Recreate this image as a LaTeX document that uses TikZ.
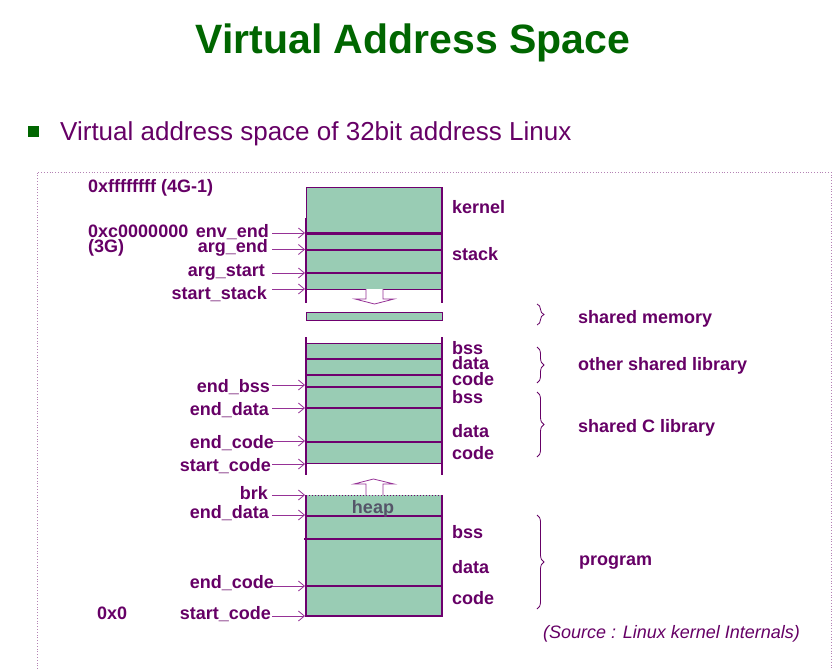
\documentclass[tikz,border=0pt]{standalone}
\usepackage{fontspec}
\setmainfont{Liberation Sans}
\usetikzlibrary{arrows.meta,decorations.pathreplacing}
\definecolor{ttl}{RGB}{0,102,0}
\definecolor{pur}{RGB}{102,0,102}
\definecolor{lnp}{RGB}{110,0,110}
\definecolor{arp}{RGB}{150,50,150}
\definecolor{segc}{RGB}{153,204,180}
\definecolor{frm}{RGB}{180,130,180}
\definecolor{heapc}{RGB}{85,85,105}
\begin{document}
\begin{tikzpicture}[x=1pt,y=-1pt,
  lbl/.style={font=\fontsize{18}{18}\selectfont\bfseries, text=pur, inner sep=0pt},
  lblL/.style={lbl, anchor=base east},
  lblR/.style={lbl, anchor=base west},
  segbox/.style={fill=segc, draw=lnp, line width=1pt},
  divline/.style={draw=lnp, line width=1.3pt},
  ptr/.style={draw=arp, line width=0.8pt, -{Straight Barb[length=6pt,width=10pt]}},
  brc/.style={draw=pur, line width=0.8pt, decorate, decoration={brace, amplitude=7pt}},
  hollow/.style={draw=arp, fill=white, line width=0.8pt},
  side/.style={draw=lnp, line width=1.2pt},
  thickside/.style={draw=lnp, line width=2pt}
]
\useasboundingbox (0,0) rectangle (835,669);
\fill[white] (0,0) rectangle (835,669);

% title and bullet
\node[font=\fontsize{41}{41}\selectfont\bfseries, text=ttl, anchor=base, inner sep=0pt] (title) at (413,53) {Virtual Address Space};
\node[fill=ttl, minimum size=11pt, inner sep=0pt] (bul) at (33,131) {};
\node[font=\fontsize{26}{26}\selectfont, text=pur, anchor=base west, inner sep=0pt] (sub) at (60,140) {Virtual address space of 32bit address Linux};

% dotted frame
\draw[frm, dotted, line width=0.8pt] (37,669) -- (37,172) -- (831,172) -- (831,669);

% block 1: kernel + stack
\draw[segbox] (306,187) rectangle (442,289);
\draw[lnp, line width=3pt] (306,233.5) -- (442,233.5);
\draw[divline] (306,250) -- (442,250);
\draw[divline] (306,273) -- (442,273);
\draw[thickside] (306,218) -- (306,303);
\draw[side] (442,187) -- (442,303);
\draw[hollow] (366,289) -- (366,299) -- (355,299) -- (374.5,304) -- (394,299) -- (383,299) -- (383,289);

% shared memory
\draw[segbox] (306,312) rectangle (442,320);

% block 2: shared libraries
\draw[segbox] (306,343) rectangle (442,463);
\foreach \yy in {359,375,387,408,442} \draw[divline] (306,\yy) -- (442,\yy);
\draw[thickside] (306,337) -- (306,420);
\draw[side] (306,420) -- (306,475);
\draw[side] (442,337) -- (442,475);

% block 3: program
\fill[segc] (306,495) rectangle (442,616);
\draw[side] (306,495) -- (306,616) -- (442,616) -- (442,495);
\draw[lnp, dotted, line width=1pt] (306,495) -- (442,495);
\foreach \yy in {516,586} \draw[divline] (306,\yy) -- (442,\yy);
\draw[divline] (304,539) -- (442,539);
\draw[hollow] (366,495) -- (366,484) -- (354,484) -- (373.5,479) -- (394,484) -- (383,484) -- (383,495);
\node[font=\fontsize{18}{18}\selectfont\bfseries, text=heapc, anchor=base, inner sep=0pt] (heap) at (373,513) {heap};

% left labels
\node[lblR] (ffff) at (88,192) {0xffffffff (4G-1)};
\node[lblR] (c000) at (88,237) {0xc0000000};
\node[lblR] (g3) at (88,252) {(3G)};
\node[lblR] (zero) at (97,619) {0x0};
\node[lblL] (envend) at (269,237) {env\_end};
\node[lblL] (argend) at (268,252) {arg\_end};
\node[lblL] (argstart) at (265,276) {arg\_start};
\node[lblL] (startstack) at (267,299) {start\_stack};
\node[lblL] (endbss) at (270,392) {end\_bss};
\node[lblL] (enddata) at (269,415) {end\_data};
\node[lblL] (endcode) at (274,448) {end\_code};
\node[lblL] (startcode) at (271,471) {start\_code};
\node[lblL] (brk) at (268,499) {brk};
\node[lblL] (penddata) at (269,518) {end\_data};
\node[lblL] (pendcode) at (274,588) {end\_code};
\node[lblL] (pstartcode) at (271,619) {start\_code};

% pointer arrows
\foreach \yy/\nn in {233/a,249.5/b,273/c,289/d,385/e,408/f,441/g,464/h,495/i,515/j,586/k,616/l}{
  \coordinate (s\nn) at (272,\yy);
  \coordinate (t\nn) at (305,\yy);
  \draw[ptr] (s\nn) -- (t\nn);
}

% right labels
\node[lblR] (kernel) at (452,213) {kernel};
\node[lblR] (stack) at (452,260) {stack};
\node[lblR] (bss1) at (452,354) {bss};
\node[lblR] (data1) at (452,369) {data};
\node[lblR] (code1) at (452,385) {code};
\node[lblR] (bss2) at (452,403) {bss};
\node[lblR] (data2) at (452,437) {data};
\node[lblR] (code2) at (452,459) {code};
\node[lblR] (bss3) at (452,538) {bss};
\node[lblR] (data3) at (452,573) {data};
\node[lblR] (code3) at (452,604) {code};

% braces
\coordinate (b1a) at (537,304); \coordinate (b1b) at (537,325);
\coordinate (b2a) at (537,347); \coordinate (b2b) at (537,383);
\coordinate (b3a) at (537,392); \coordinate (b3b) at (537,457);
\coordinate (b4a) at (537,515); \coordinate (b4b) at (537,609);
\draw[brc] (b1a) -- (b1b);
\draw[brc] (b2a) -- (b2b);
\draw[brc] (b3a) -- (b3b);
\draw[brc] (b4a) -- (b4b);
\node[lblR] (shm) at (578,323) {shared memory};
\node[lblR] (osl) at (578,370) {other shared library};
\node[lblR] (scl) at (578,432) {shared C library};
\node[lblR] (prog) at (579,565) {program};

% source
\node[font=\fontsize{18}{18}\selectfont\itshape, text=pur, anchor=base west, inner sep=0pt] (src) at (543,638) {(Source : Linux kernel Internals)};
\end{tikzpicture}
\end{document}
